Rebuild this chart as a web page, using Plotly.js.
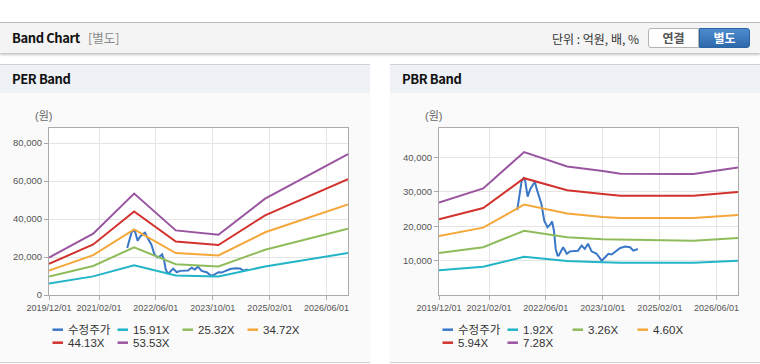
<!DOCTYPE html>
<html>
<head>
<meta charset="utf-8">
<script src="https://cdn.plot.ly/plotly-3.0.1.min.js"></script>
<style>
  html, body { margin:0; padding:0; }
  body { width:760px; height:364px; background:#fff; position:relative; overflow:hidden;
         font-family:'Noto Sans CJK KR','Liberation Sans',sans-serif; }
  #topbar { position:absolute; left:0; top:22px; width:760px; height:31px; box-sizing:border-box;
            background:#f4f4f4; border-top:1px solid #bcbcbc; box-shadow:0 2px 2px rgba(0,0,0,0.22); }
  #title { position:absolute; left:12px; top:6px; font-size:13px; font-weight:bold; color:#111; line-height:18px; letter-spacing:-0.4px; }
  #sub { position:absolute; left:88px; top:6px; font-size:12.5px; color:#8a8a8a; line-height:18px; }
  #unit { position:absolute; left:552px; top:7px; font-size:12px; color:#333; line-height:18px; }
  .btn { position:absolute; top:5px; height:20px; width:51px; box-sizing:border-box; font-size:12px; font-weight:bold;
         text-align:center; line-height:18px; }
  #b1 { left:648px; background:#fff; border:1px solid #b4b4b4; border-radius:3px 0 0 3px; color:#555; }
  #b2 { left:699px; background:linear-gradient(#4c8ad0,#2e69aa); border:1px solid #2c64a3; border-radius:0 3px 3px 0; color:#fff; }
  .panel { position:absolute; top:64px; height:299px; width:370px; background:#fafafa; border-bottom:1px solid #cfcfcf; box-sizing:border-box; }
  .phead { height:29px; box-sizing:border-box; background:#eef1f6; border-top:1px solid #cfd2d6; padding-left:12px;
           font-size:13px; font-weight:bold; color:#111; line-height:28px; letter-spacing:-0.4px; }
  .chart { position:absolute; left:0; top:29px; width:370px; height:269px; }
</style>
</head>
<body>
<div id="topbar">
  <div id="title">Band Chart</div>
  <div id="sub">[별도]</div>
  <div id="unit">단위 : 억원, 배, %</div>
  <div class="btn" id="b1">연결</div>
  <div class="btn" id="b2">별도</div>
</div>
<div class="panel" style="left:0px;"><div class="phead">PER Band</div><div class="chart" id="per"></div></div>
<div class="panel" style="left:390px;"><div class="phead">PBR Band</div><div class="chart" id="pbr"></div></div>

<script>
// ---------- data ----------
const tickDates  = ['2019-12-01','2021-02-01','2022-06-01','2023-10-01','2025-02-01','2026-06-01'];
const tickLabels = ['2019/12/01','2021/02/01','2022/06/01','2023/10/01','2025/02/01','2026/06/01'];
const xStart = '2019-12-01';
const xEnd   = '2026-12-01';

const priceName = '수정주가';
const priceDates = ['2021-09-30','2021-10-22','2021-11-07','2021-11-24','2021-12-07','2021-12-28','2022-01-19',
  '2022-02-19','2022-03-01','2022-03-16','2022-04-04','2022-04-25','2022-05-19','2022-06-16','2022-07-13',
  '2022-07-25','2022-08-10','2022-08-25','2022-09-10','2022-09-20','2022-10-28','2022-11-28','2022-12-25',
  '2023-03-04','2023-04-04','2023-05-01','2023-05-28','2023-06-28','2023-08-10','2023-09-22','2023-10-22',
  '2023-11-19','2023-12-16','2024-01-16','2024-02-28','2024-04-10','2024-05-22','2024-06-19','2024-07-28'];
const priceValues = [24700,28900,33200,34000,33200,28600,30800,
  32500,32800,30800,28400,26500,21600,19700,20700,
  21400,18700,13400,11500,11500,13900,12000,12700,
  12900,14400,13400,14900,12700,12000,10000,11000,
  12000,11800,12700,13700,14100,13900,12900,13400];

const perNames = ['15.91X','25.32X','34.72X','44.13X','53.53X'];
const perDates = ['2019-12-01','2020-12-13','2021-11-28','2022-11-19','2023-11-19','2024-12-22','2026-12-01'];
const per1591 = [6000, 9800, 15700, 10300, 9700, 15000, 22100];
const per2532 = [9700, 15300, 25100, 16200, 15000, 23800, 34900];
const per3472 = [12900, 21000, 34500, 22100, 20800, 33000, 47600];
const per4413 = [16400, 26600, 44000, 28100, 26300, 41900, 61000];
const per5353 = [19700, 32300, 53400, 34000, 31700, 50700, 74200];
const perTicks = [0, 20000, 40000, 60000, 80000];

const pbrNames = ['1.92X','3.26X','4.60X','5.94X','7.28X'];
const pbrDates = ['2019-12-01','2020-12-13','2021-11-28','2022-06-01','2022-12-01','2023-10-01',
  '2024-03-01','2025-09-01','2025-11-15','2026-12-01'];
const pbr192 = [7200, 8200, 11100, 10500, 9900, 9500, 9350, 9350, 9350, 10000];
const pbr326 = [12200, 13900, 18700, 17700, 16800, 16200, 16100, 15700, 15800, 16600];
const pbr460 = [17200, 19600, 26300, 25000, 23700, 22700, 22400, 22400, 22400, 23300];
const pbr594 = [22000, 25300, 34000, 32300, 30500, 29400, 28900, 28900, 28900, 30000];
const pbr728 = [26900, 31000, 41600, 39600, 37400, 36100, 35300, 35200, 35200, 37100];
const pbrTicks = [10000, 20000, 30000, 40000];

// ---------- style ----------
const colors = ['#3a77c7','#22b4c7','#8fbc5a','#f4a83a','#d2322d','#9955a0'];
const FONT = "'Liberation Sans', Arial, 'Noto Sans CJK KR', sans-serif";
const W = 370, H = 269, M = {l:49, r:22, t:35, b:67};
const PW = W - M.l - M.r, PH = H - M.t - M.b;

function draw(id, bandDates, bands, names, yMax, yTicks) {
  const traces = [{
    x: priceDates, y: priceValues, type:'scatter', mode:'lines', name: priceName,
    line:{color:colors[0], width:2}
  }];
  bands.forEach((b, i) => traces.push({
    x: bandDates, y: b, type:'scatter', mode:'lines', name: names[i],
    line:{color:colors[i+1], width:2}
  }));
  const allNames = [priceName].concat(names);
  const shapes = [], annotations = [];
  allNames.forEach((n, i) => {
    const col = i % 4, row = Math.floor(i / 4);
    const yp = -(34.7 + 13 * row) / PH;
    shapes.push({type:'line', xref:'paper', yref:'paper',
      x0:(3.5 + 65*col)/PW, x1:(14 + 65*col)/PW, y0:yp, y1:yp,
      line:{color:colors[i], width:2.5}});
    annotations.push({xref:'paper', yref:'paper', x:(17 + 65*col)/PW, y:yp,
      xanchor:'left', yanchor:'middle', showarrow:false, text:n,
      font:{family:FONT, size:11.5, color:'#333'}});
  });
  annotations.push({xref:'paper', yref:'paper', x:0, y:1, xanchor:'right', yanchor:'bottom',
    xshift:5, yshift:4, showarrow:false, text:'(원)', font:{family:FONT, size:11, color:'#666'}});

  const layout = {
    width:W, height:H, margin:M,
    paper_bgcolor:'rgba(0,0,0,0)', plot_bgcolor:'#ffffff',
    showlegend:false,
    font:{family:FONT, size:10, color:'#555'},
    xaxis:{type:'date', range:[xStart, xEnd], tickmode:'array', tickvals:tickDates, ticktext:tickLabels,
      showgrid:true, gridcolor:'#e4e4e4', gridwidth:1, zeroline:false,
      showline:true, mirror:true, linecolor:'#ababab', linewidth:1,
      ticks:'outside', ticklen:4, tickcolor:'#ababab', tickfont:{family:FONT, size:9, color:'#555'}},
    yaxis:{range:[0, yMax], tickmode:'array', tickvals:yTicks, tickformat:',d',
      showgrid:true, gridcolor:'#e4e4e4', gridwidth:1, zeroline:false,
      showline:true, mirror:true, linecolor:'#ababab', linewidth:1,
      ticks:'outside', ticklen:4, tickcolor:'#ababab', tickfont:{family:FONT, size:9.5, color:'#555'}},
    shapes: shapes, annotations: annotations
  };
  Plotly.newPlot(id, traces, layout, {staticPlot:true, displayModeBar:false});
}

draw('per', perDates, [per1591, per2532, per3472, per4413, per5353], perNames, 87900, perTicks);
draw('pbr', pbrDates, [pbr192, pbr326, pbr460, pbr594, pbr728], pbrNames, 48600, pbrTicks);
</script>
</body>
</html>
